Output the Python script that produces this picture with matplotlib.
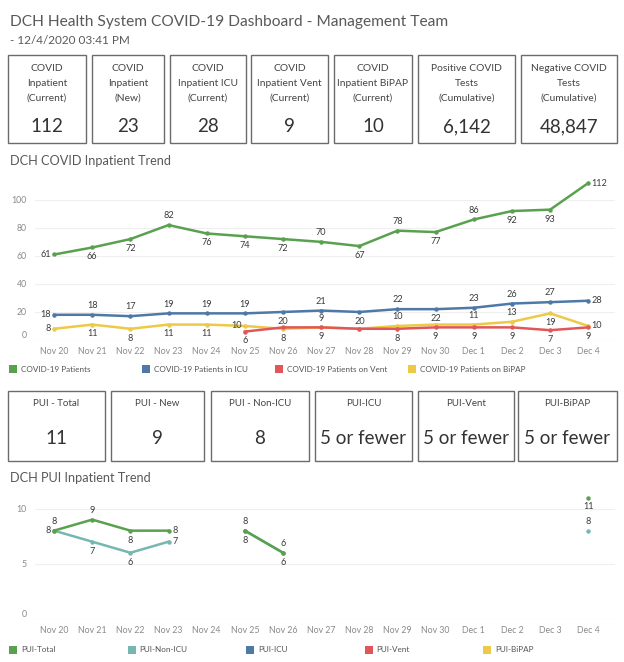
import numpy as np
import matplotlib
matplotlib.use('Agg')
from matplotlib import pyplot as plt
from matplotlib.patches import Rectangle

plt.rcParams['font.family'] = ['Lato', 'DejaVu Sans']

W, H = 624, 662

dates = ['Nov 20', 'Nov 21', 'Nov 22', 'Nov 23', 'Nov 24', 'Nov 25', 'Nov 26', 'Nov 27',
         'Nov 28', 'Nov 29', 'Nov 30', 'Dec 1', 'Dec 2', 'Dec 3', 'Dec 4']

kpi_titles = ['COVID\nInpatient\n(Current)', 'COVID\nInpatient\n(New)', 'COVID\nInpatient ICU\n(Current)',
              'COVID\nInpatient Vent\n(Current)', 'COVID\nInpatient BiPAP\n(Current)',
              'Positive COVID\nTests\n(Cumulative)', 'Negative COVID\nTests\n(Cumulative)']
kpi_values = ['112', '23', '28', '9', '10', '6,142', '48,847']

pui_titles = ['PUI - Total', 'PUI - New', 'PUI - Non-ICU', 'PUI-ICU', 'PUI-Vent', 'PUI-BiPAP']
pui_values = ['11', '9', '8', '5 or fewer', '5 or fewer', '5 or fewer']

nan = np.nan
covid_patients = [61, 66, 72, 82, 76, 74, 72, 70, 67, 78, 77, 86, 92, 93, 112]
covid_icu = [18, 18, 17, 19, 19, 19, 20, 21, 20, 22, 22, 23, 26, 27, 28]
covid_vent = [nan, nan, nan, nan, nan, 6, 9, 9, 8, 8, 9, 9, 9, 7, 9]
covid_bipap = [8, 11, 8, 11, 11, 10, 8, 9, 8, 10, 11, 11, 13, 19, 10]

pui_total = [8, 9, 8, 8, nan, 8, 6, nan, nan, nan, nan, nan, nan, nan, 11]
pui_non_icu = [8, 7, 6, 7, nan, 8, 6, nan, nan, nan, nan, nan, nan, nan, 8]

# label placement: a=above b=below l=left r=right -=none
lab_patients = 'lbbabbbabababbr'
lab_icu = 'laaaaabababaaar'
lab_vent = '-----b-b-bbbbbb'
lab_bipap = 'lbbbblba-a-aabr'
lab_total = 'aabr-aa-------b'
lab_non_icu = 'lbbr-bb-------a'

GREEN, BLUE, RED, YELLOW, TEAL = '#59a14f', '#4e79a7', '#e15759', '#edc948', '#76b7b2'


def fx(x):
    return x / W


def fy(y):
    return 1 - y / H


def box(fig, x0, x1, y0, y1, title, value, tsize, vsize, ty, vy):
    fig.add_artist(Rectangle((fx(x0), fy(y1)), fx(x1 - x0), (y1 - y0) / H,
                             transform=fig.transFigure, fill=False, ec='#6b6b6b', lw=1.0))
    xc = fx((x0 + x1) / 2)
    fig.text(xc, fy(ty), title, ha='center', va='top', fontsize=tsize, color='#444444', linespacing=1.8)
    fig.text(xc, fy(vy), value, ha='center', va='center', fontsize=vsize, color='#333333')


def draw_labels(ax, vals, codes):
    offs = {'a': ((0, 3.5), 'center', 'bottom'), 'b': ((0, -3.5), 'center', 'top'),
            'l': ((-2.5, 0), 'right', 'center'), 'r': ((2.5, 0), 'left', 'center')}
    for i, (v, c) in enumerate(zip(vals, codes)):
        if c == '-' or np.isnan(v):
            continue
        o, ha, va = offs[c]
        ax.annotate('%d' % v, (i, v), xytext=o, textcoords='offset points',
                    ha=ha, va=va, fontsize=6.6, color='#3a3a3a')


def style_axis(ax, ymax, yticks):
    ax.set_xlim(-0.5, 14.7)
    ax.set_ylim(0, ymax)
    ax.set_xticks(range(len(dates)))
    ax.set_xticklabels(dates)
    ax.set_yticks(yticks)
    ax.tick_params(length=0, labelsize=6.3, colors='#8a8a8a')
    ax.tick_params(axis='x', pad=5)
    ax.tick_params(axis='y', pad=6)
    ax.get_yticklabels()[0].set_va('bottom')
    for s in ax.spines.values():
        s.set_visible(False)
    ax.axhline(0, color='#e6e6e6', lw=0.8, zorder=0)
    ax.grid(axis='y', color='#efefef', lw=0.8)
    ax.set_axisbelow(True)


def legend(fig, names, colors, x0, step, y):
    for i, (n, c) in enumerate(zip(names, colors)):
        x = x0 + i * step
        fig.add_artist(Rectangle((fx(x - 4), fy(y + 4)), fx(8), 8 / H,
                                 transform=fig.transFigure, color=c, lw=0))
        fig.text(fx(x + 8), fy(y), n, ha='left', va='center', fontsize=5.9, color='#555555')


def MakePlot():
    fig = plt.figure(figsize=(W / 100, H / 100), dpi=100)

    fig.text(fx(10), fy(22), 'DCH Health System COVID-19 Dashboard - Management Team',
             ha='left', va='center', fontsize=11.2, color='#595959')
    fig.text(fx(10), fy(41), '- 12/4/2020 03:41 PM', ha='left', va='center', fontsize=8.5, color='#595959')

    kpi_x = [(8, 86), (92, 164), (170, 246), (251, 328), (334, 412), (418, 515), (521, 617)]
    for (x0, x1), t, v in zip(kpi_x, kpi_titles, kpi_values):
        box(fig, x0, x1, 55, 143, t, v, 7.4, 13.5, 64, 127)

    pui_x = [(8, 105), (111, 204), (211, 309), (315, 412), (418, 514), (518, 617)]
    for (x0, x1), t, v in zip(pui_x, pui_titles, pui_values):
        box(fig, x0, x1, 391, 461, t, v, 7.0, 13.5, 399, 439)

    # COVID inpatient trend
    fig.text(fx(10), fy(161), 'DCH COVID Inpatient Trend', ha='left', va='center', fontsize=9.2, color='#595959')
    ax1 = fig.add_axes([fx(35), fy(340), fx(615 - 35), (340 - 176) / H])
    style_axis(ax1, 117, [0, 20, 40, 60, 80, 100])
    x = np.arange(len(dates))
    for vals, col in [(covid_bipap, YELLOW), (covid_vent, RED), (covid_icu, BLUE), (covid_patients, GREEN)]:
        ax1.plot(x, vals, color=col, lw=1.8, marker='o', ms=2.2)
    for vals, codes in [(covid_patients, lab_patients), (covid_icu, lab_icu),
                        (covid_vent, lab_vent), (covid_bipap, lab_bipap)]:
        draw_labels(ax1, vals, codes)
    legend(fig, ['COVID-19 Patients', 'COVID-19 Patients in ICU', 'COVID-19 Patients on Vent',
                 'COVID-19 Patients on BiPAP'], [GREEN, BLUE, RED, YELLOW], 13, 133, 369)

    # PUI inpatient trend
    fig.text(fx(10), fy(478), 'DCH PUI Inpatient Trend', ha='left', va='center', fontsize=9.2, color='#595959')
    ax2 = fig.add_axes([fx(35), fy(619), fx(615 - 35), (619 - 492) / H])
    style_axis(ax2, 11.5, [0, 5, 10])
    for vals, col in [(pui_non_icu, TEAL), (pui_total, GREEN)]:
        ax2.plot(x, vals, color=col, lw=1.8, marker='o', ms=2.2)
    draw_labels(ax2, pui_total, lab_total)
    draw_labels(ax2, pui_non_icu, lab_non_icu)
    legend(fig, ['PUI-Total', 'PUI-Non-ICU', 'PUI-ICU', 'PUI-Vent', 'PUI-BiPAP'],
           [GREEN, TEAL, BLUE, RED, YELLOW], 13, 118.5, 650)

    fig.savefig('out.png', dpi=100)


def main():
    MakePlot()


if __name__ == '__main__':
    main()
